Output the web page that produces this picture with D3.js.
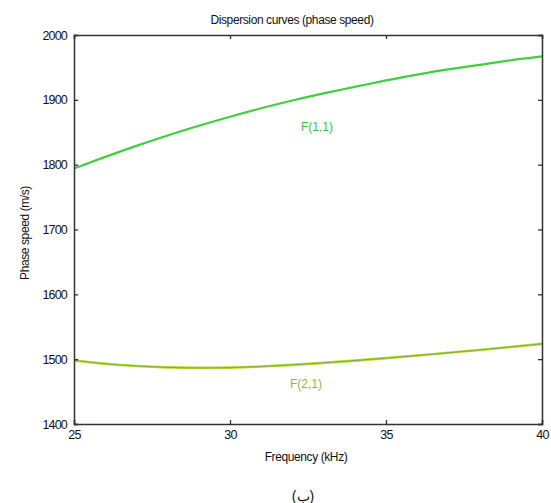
<!DOCTYPE html>
<html><head><meta charset="utf-8">
<script src="https://cdn.jsdelivr.net/npm/d3@7"></script>
<style>body{margin:0;background:#fff}svg{display:block}text{font-family:"Liberation Sans",Arial,sans-serif;fill:#111}</style>
</head><body>
<script>
const freq = [25,26,27,28,29,30,31,32,33,34,35,36,37,38,39,40];
const f11 = [1794,1812,1829,1845,1860,1874,1887,1899,1910,1920,1930,1939,1947,1954,1961,1967];
const f21 = [1498,1493,1489.5,1487.3,1486.5,1487,1488.7,1491.2,1494.3,1497.8,1501.6,1505.6,1509.8,1514.2,1518.8,1523.6];
const xTicks = [25,30,35,40];
const yTicks = [1400,1500,1600,1700,1800,1900,2000];
const seriesNames = ["F(1,1)","F(2,1)"];

const W=551,H=503;
const L=74,R=542,T=35,B=424;
const svg=d3.select("body").append("svg").attr("width",W).attr("height",H);
const x=d3.scaleLinear().domain([25,40]).range([L,R]);
const y=d3.scaleLinear().domain([1400,2000]).range([B,T]);

const line=d3.line().x((d,i)=>x(freq[i])).y(d=>y(d)).curve(d3.curveNatural);
svg.append("path").datum(f11).attr("d",line).attr("fill","none").attr("stroke","#3fcf3f").attr("stroke-width",2.2);
svg.append("path").datum(f21).attr("d",line).attr("fill","none").attr("stroke","#b5d93a").attr("stroke-width",2.6);
svg.append("path").datum(f21).attr("d",line).attr("fill","none").attr("stroke","#7fae3a").attr("stroke-width",1);

// axes
const axCol="#333";
const fmt=d3.format("d");
const gB=svg.append("g").attr("transform",`translate(0,${B})`).call(d3.axisBottom(x).tickValues(xTicks).tickSize(-4).tickPadding(8).tickFormat(fmt));
const gT=svg.append("g").attr("transform",`translate(0,${T})`).call(d3.axisTop(x).tickValues(xTicks).tickSize(-4).tickFormat(""));
const gL=svg.append("g").attr("transform",`translate(${L},0)`).call(d3.axisLeft(y).tickValues(yTicks).tickSize(-4).tickPadding(7).tickFormat(fmt));
const gR=svg.append("g").attr("transform",`translate(${R},0)`).call(d3.axisRight(y).tickValues(yTicks).tickSize(-4).tickFormat(""));
[gB,gT,gL,gR].forEach(g=>{
  g.select(".domain").attr("stroke",axCol).attr("stroke-width",1.5);
  g.selectAll(".tick line").attr("stroke",axCol).attr("stroke-width",1.3);
  g.selectAll("text").attr("font-size",12.5).attr("fill","#111").attr("font-family","Liberation Sans, Arial, sans-serif").style("letter-spacing","-0.8px");
});
gB.selectAll(".tick text").attr("dy","0.55em");

svg.append("text").attr("x",292).attr("y",24).attr("text-anchor","middle").attr("font-size",12).style("letter-spacing","-0.4px").text("Dispersion curves (phase speed)");
svg.append("text").attr("x",306).attr("y",461).attr("text-anchor","middle").attr("font-size",12).style("letter-spacing","-0.4px").text("Frequency (kHz)");
svg.append("text").attr("transform","translate(29,233) rotate(-90)").attr("text-anchor","middle").attr("font-size",12).style("letter-spacing","-0.4px").text("Phase speed (m/s)");

svg.append("text").attr("x",317).attr("y",131).attr("text-anchor","middle").attr("font-size",12).style("fill","#3fbf3f").text(seriesNames[0]);
svg.append("text").attr("x",306).attr("y",388).attr("text-anchor","middle").attr("font-size",12).style("fill","#8cb83c").text(seriesNames[1]);

svg.append("text").attr("x",303).attr("y",501).attr("text-anchor","middle").attr("font-size",14).attr("font-family","DejaVu Sans, sans-serif").text("(ب)");
</script>
</body></html>
